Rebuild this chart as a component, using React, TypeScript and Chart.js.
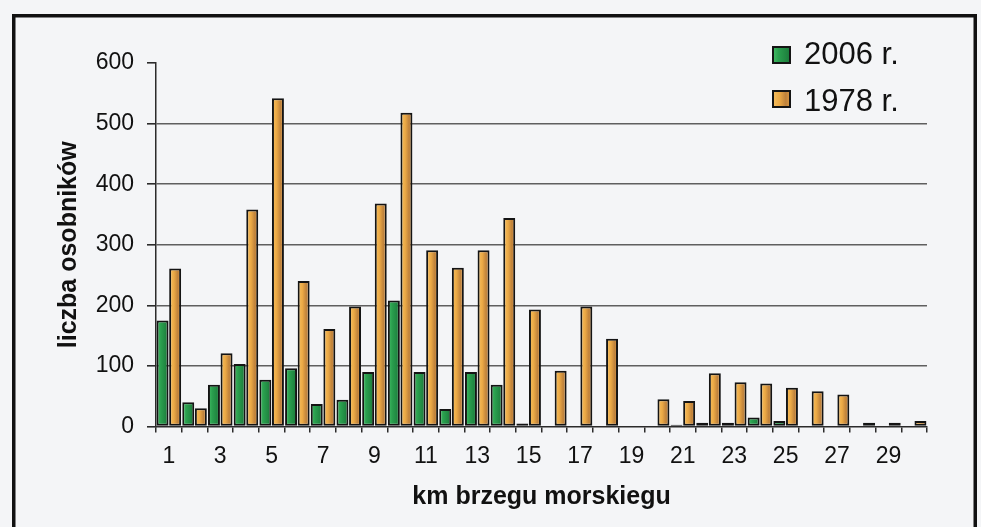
import React, { useEffect, useRef } from 'react';
import { Chart, registerables } from 'chart.js';

Chart.register(...registerables);

// ---------- data ----------
const KM_LABELS = [
  '1', '2', '3', '4', '5', '6', '7', '8', '9', '10',
  '11', '12', '13', '14', '15', '16', '17', '18', '19', '20',
  '21', '22', '23', '24', '25', '26', '27', '28', '29', '30',
];
const SERIES_LABELS = ['2006 r.', '1978 r.'];
const VALUES_2006: (number | null)[] = [
  175, 40, 69, 103, 77, 96, 37, 44, 90, 208,
  90, 29, 90, 69, 5, null, null, null, null, null,
  3, 6, 6, 15, 9, null, null, null, null, null,
];
const VALUES_1978: (number | null)[] = [
  261, 30, 121, 358, 542, 240, 161, 198, 368, 518,
  291, 262, 291, 344, 193, 92, 198, 145, null, 45,
  42, 88, 73, 71, 64, 58, 53, 6, 6, 9,
];
const Y_MIN = 0;
const Y_MAX = 600;
const Y_STEP = 100;
const X_TITLE = 'km brzegu morskiegu';
const Y_TITLE = 'liczba osobników';

// ---------- styles ----------
const FONT = '"Liberation Sans", Arial, Helvetica, sans-serif';
const TEXT = '#111111';
const CAT_PCT = 0.98;
const BAR_PCT = 0.95;

function greenStops(g: CanvasGradient) {
  g.addColorStop(0, '#46c068');
  g.addColorStop(0.35, '#2a9f4e');
  g.addColorStop(1, '#1a7739');
}
function orangeStops(g: CanvasGradient) {
  g.addColorStop(0, '#f8c262');
  g.addColorStop(0.4, '#eba945');
  g.addColorStop(0.72, '#bf823c');
  g.addColorStop(1, '#e09d44');
}

const makeFill = (series: number) => (c: any) => {
  const chart = c.chart;
  const base = series === 0 ? '#2e9c4f' : '#efb24e';
  const xs = chart && chart.scales && chart.scales.x;
  if (!xs || c.type !== 'data' || !xs.width) return base;
  const n = KM_LABELS.length;
  const cw = xs.width / n;
  const center = xs.getPixelForValue(c.dataIndex);
  const size = (cw * CAT_PCT) / 2;
  const bw = size * BAR_PCT;
  const bc = series === 0 ? center - size / 2 : center + size / 2;
  const x0 = bc - bw / 2;
  const g = chart.ctx.createLinearGradient(x0, 0, x0 + bw, 0);
  if (series === 0) greenStops(g);
  else orangeStops(g);
  return g;
};

const decorPlugin = {
  id: 'decor',
  beforeDraw(chart: any) {
    const { ctx, width, height } = chart;
    ctx.save();
    ctx.fillStyle = '#f4f5f7';
    ctx.fillRect(0, 0, width, height);
    ctx.restore();
  },
  afterDraw(chart: any) {
    const { ctx, height } = chart;
    ctx.save();
    // outer frame
    ctx.strokeStyle = '#111';
    ctx.lineWidth = 3.5;
    ctx.beginPath();
    ctx.moveTo(13.75, height + 10);
    ctx.lineTo(13.75, 15.75);
    ctx.lineTo(975.25, 15.75);
    ctx.lineTo(975.25, height + 10);
    ctx.stroke();
    // legend
    chart.data.datasets.forEach((ds: any, i: number) => {
      const by = 46 + i * 44;
      const g = ctx.createLinearGradient(772, 0, 791, 0);
      if (i === 0) greenStops(g);
      else orangeStops(g);
      ctx.fillStyle = g;
      ctx.fillRect(772, by, 19, 18);
      ctx.lineWidth = 2;
      ctx.strokeStyle = '#141414';
      ctx.strokeRect(773, by + 1, 17, 16);
      ctx.fillStyle = TEXT;
      ctx.font = `31px ${FONT}`;
      ctx.textBaseline = 'alphabetic';
      ctx.textAlign = 'left';
      ctx.fillText(ds.label, 804, 63.5 + i * 47.5);
    });
    ctx.restore();
  },
};

export default function App() {
  const ref = useRef<HTMLCanvasElement | null>(null);

  useEffect(() => {
    document.body.style.margin = '0';
    document.body.style.overflow = 'hidden';
    const canvas = ref.current;
    if (!canvas) return;
    const chart = new Chart(canvas, {
      type: 'bar',
      data: {
        labels: KM_LABELS,
        datasets: [
          {
            label: SERIES_LABELS[0],
            data: VALUES_2006,
            backgroundColor: makeFill(0),
            borderColor: '#141414',
            borderWidth: 2,
            borderSkipped: false,
            categoryPercentage: CAT_PCT,
            barPercentage: BAR_PCT,
          },
          {
            label: SERIES_LABELS[1],
            data: VALUES_1978,
            backgroundColor: makeFill(1),
            borderColor: '#141414',
            borderWidth: 2,
            borderSkipped: false,
            categoryPercentage: CAT_PCT,
            barPercentage: BAR_PCT,
          },
        ],
      },
      options: {
        responsive: false,
        animation: false,
        devicePixelRatio: 1,
        layout: { padding: { top: 63, right: 54, bottom: 0, left: 0 } },
        plugins: {
          legend: { display: false },
          tooltip: { enabled: false },
        },
        scales: {
          x: {
            ticks: {
              autoSkip: false,
              maxRotation: 0,
              minRotation: 0,
              padding: 10,
              color: TEXT,
              font: { family: FONT, size: 23 },
              callback: function (this: any, value: any, index: number) {
                return index % 2 === 0 ? KM_LABELS[index] : '';
              },
            },
            grid: {
              drawOnChartArea: false,
              drawTicks: true,
              tickLength: 6,
              tickColor: '#2b2b2b',
              lineWidth: 1.5,
              offset: true,
            },
            border: { color: '#2b2b2b', width: 1.5 },
            title: {
              display: true,
              text: X_TITLE,
              color: TEXT,
              font: { family: FONT, size: 25, weight: 'bold' },
              padding: { top: 0, bottom: 15 },
            },
            afterFit: (s: any) => {
              s.height = 100.5;
            },
          },
          y: {
            min: Y_MIN,
            max: Y_MAX,
            ticks: {
              stepSize: Y_STEP,
              padding: 13,
              color: TEXT,
              font: { family: FONT, size: 23 },
            },
            grid: {
              color: (c: any) =>
                c.tick && (c.tick.value === Y_MIN || c.tick.value === Y_MAX)
                  ? 'rgba(0,0,0,0)'
                  : '#5f5f5f',
              lineWidth: 1.6,
              tickColor: '#2b2b2b',
              tickLength: 9,
              drawTicks: true,
            },
            border: { color: '#2b2b2b', width: 1.5 },
            title: {
              display: true,
              text: Y_TITLE,
              color: TEXT,
              font: { family: FONT, size: 25, weight: 'bold' },
              padding: { top: 54, bottom: 0 },
            },
            afterFit: (s: any) => {
              s.width = 156;
            },
          },
        },
      },
      plugins: [decorPlugin],
    } as any);
    return () => chart.destroy();
  }, []);

  return (
    <div style={{ width: 981, height: 527 }}>
      <canvas ref={ref} width={981} height={527} style={{ display: 'block' }} />
    </div>
  );
}
